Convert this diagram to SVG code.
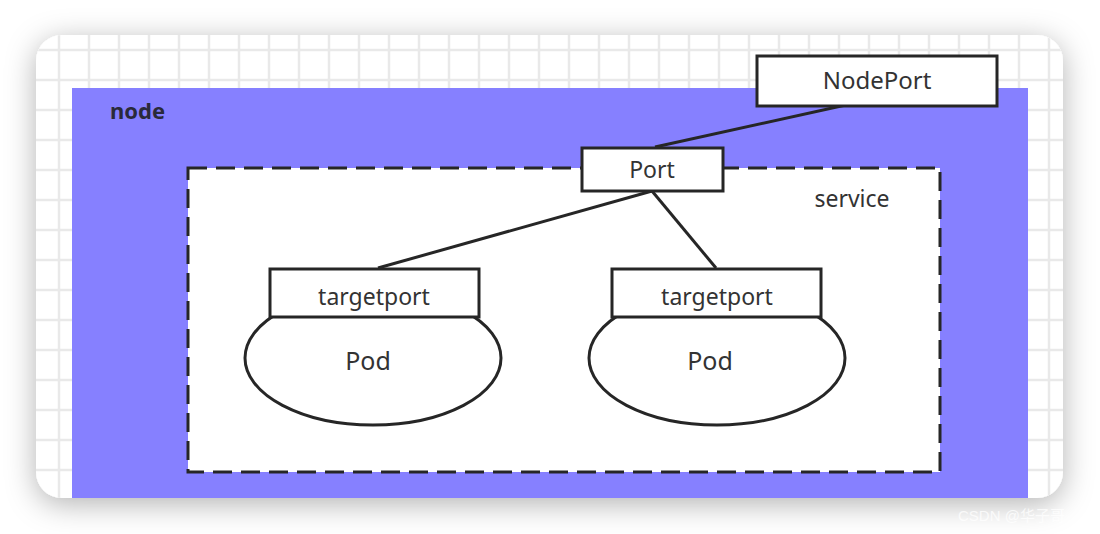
<svg xmlns="http://www.w3.org/2000/svg" width="1100" height="534" viewBox="0 0 1100 534">
  <defs>
    <filter id="shadow" x="-10%" y="-25%" width="120%" height="150%">
      <feDropShadow dx="0" dy="6" stdDeviation="15" flood-color="#000" flood-opacity="0.3"/>
    </filter>
    <pattern id="grid" patternUnits="userSpaceOnUse" x="44" y="35" width="30" height="30">
      <path d="M0 15 H30 M15 0 V30" stroke="#e9e9e9" stroke-width="2.5" fill="none"/>
    </pattern>
    <clipPath id="cardClip">
      <rect x="36" y="35" width="1027" height="463" rx="26" ry="26"/>
    </clipPath>
  </defs>
  <style>
    .box { fill: #ffffff; stroke: #262626; stroke-width: 3; }
    .lbl { font-family: "Noto Sans", "Open Sans", sans-serif; fill: #333333; text-anchor: middle; }
    .conn { stroke: #262626; stroke-width: 3; fill: none; }
  </style>
  <rect width="1100" height="534" fill="#ffffff"/>
  <g id="card">
    <rect x="36" y="35" width="1027" height="463" rx="26" ry="26" fill="#ffffff" filter="url(#shadow)"/>
    <rect x="36" y="35" width="1027" height="463" fill="url(#grid)" clip-path="url(#cardClip)"/>
  </g>
  <g id="node">
    <rect x="72" y="88" width="956" height="410" fill="#8680ff" clip-path="url(#cardClip)"/>
    <text x="110" y="119" font-family="'Noto Sans', 'Open Sans', sans-serif" font-size="22" font-weight="bold" fill="#2a2a3a">node</text>
  </g>
  <g id="service">
    <rect x="188" y="168" width="752" height="304" fill="#ffffff" stroke="#262626" stroke-width="3" stroke-dasharray="19 9"/>
    <text class="lbl" x="852" y="207" font-size="23">service</text>
  </g>
  <g id="connectors">
    <line class="conn" x1="873" y1="99" x2="655" y2="147"/>
    <line class="conn" x1="652" y1="191" x2="378" y2="268"/>
    <line class="conn" x1="652" y1="191" x2="716" y2="268"/>
  </g>
  <g id="nodeport">
    <rect class="box" x="757" y="56" width="240" height="50"/>
    <text class="lbl" x="877" y="89" font-size="24">NodePort</text>
  </g>
  <g id="port">
    <rect class="box" x="582" y="148" width="141" height="43"/>
    <text class="lbl" x="652" y="178" font-size="23">Port</text>
  </g>
  <g id="pod1">
    <ellipse class="box" cx="373" cy="358" rx="128" ry="67"/>
    <rect class="box" x="270" y="269" width="209" height="48"/>
    <text class="lbl" x="374" y="305" font-size="23">targetport</text>
    <text class="lbl" x="368" y="370" font-size="25">Pod</text>
  </g>
  <g id="pod2">
    <ellipse class="box" cx="717" cy="358" rx="128" ry="67"/>
    <rect class="box" x="612" y="269" width="209" height="48"/>
    <text class="lbl" x="717" y="305" font-size="23">targetport</text>
    <text class="lbl" x="710" y="370" font-size="25">Pod</text>
  </g>
  <text x="958" y="521" font-family="'Liberation Sans', 'Noto Sans CJK SC', sans-serif" font-size="15" fill="#ffffff" fill-opacity="0.75">CSDN @华子哥</text>
</svg>
